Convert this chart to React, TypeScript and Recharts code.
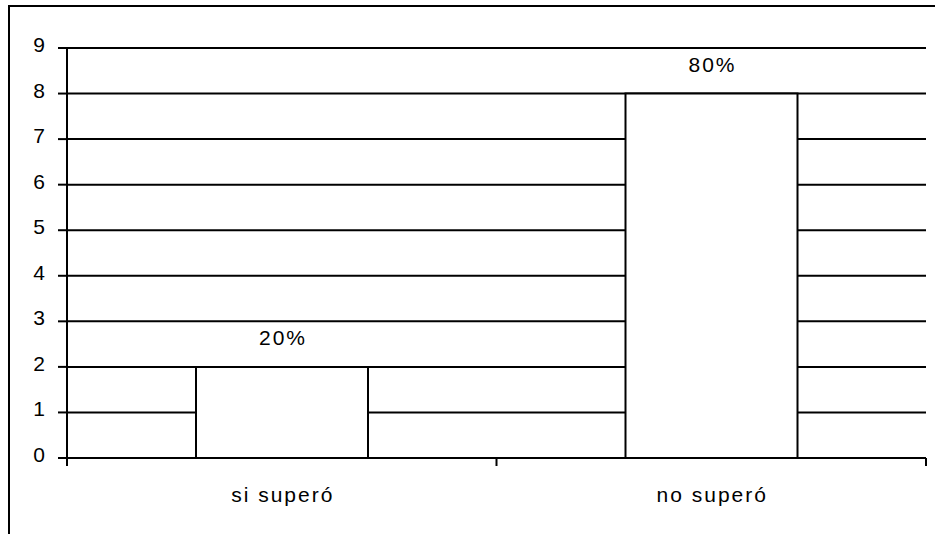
import React from 'react';
import { BarChart, Bar, XAxis, YAxis, CartesianGrid, LabelList } from 'recharts';

const categories = ['si superó', 'no superó'];
const counts = [2, 8];
const percentLabels = ['20%', '80%'];
const yTicks = [0, 1, 2, 3, 4, 5, 6, 7, 8, 9];

const data = categories.map((c, i) => ({ name: c, value: counts[i], label: percentLabels[i] }));

const FONT = '"Liberation Sans", Arial, sans-serif';
const FS = 21;
const CHART_W = 935;
const CHART_H = 534;
const MARGIN = { top: 48, right: 9, bottom: 0, left: 0 };
const Y_W = 67;
const PLOT_W = CHART_W - MARGIN.left - MARGIN.right - Y_W;
const HALF_BAND = PLOT_W / categories.length / 2;

const CategoryTick = (props: any) => {
  const { x, y, payload, index } = props;
  const isLast = index === categories.length - 1;
  return (
    <g>
      <line x1={x - HALF_BAND} x2={x - HALF_BAND} y1={y} y2={y + 8} stroke="#000" strokeWidth={2} />
      {isLast && (
        <line x1={x + HALF_BAND} x2={x + HALF_BAND} y1={y} y2={y + 8} stroke="#000" strokeWidth={2} />
      )}
      <text
        x={x + 1}
        y={y + 44}
        textAnchor="middle"
        fill="#000"
        fontSize={FS}
        fontFamily={FONT}
        letterSpacing={2}
      >
        {payload.value}
      </text>
    </g>
  );
};

const YTick = (props: any) => {
  const { x, y, payload } = props;
  return (
    <text x={x} y={y} dy={4} textAnchor="end" fill="#000" fontSize={FS} fontFamily={FONT}>
      {payload.value}
    </text>
  );
};

const renderPct = (props: any) => {
  const { x, y, width, value } = props;
  return (
    <text
      x={x + width / 2 + 1}
      y={y - 22}
      textAnchor="middle"
      fill="#000"
      fontSize={FS}
      fontFamily={FONT}
      letterSpacing={2}
    >
      {value}
    </text>
  );
};

export default function App() {
  return (
    <div style={{ position: 'absolute', left: 0, top: 0, width: CHART_W, height: CHART_H, background: '#fff' }}>
      <div
        style={{
          position: 'absolute',
          left: 8,
          top: 5,
          width: 940,
          height: 540,
          border: '2px solid #000',
          boxSizing: 'border-box',
        }}
      />
      <div style={{ position: 'absolute', left: 0, top: 0 }}>
        <BarChart width={CHART_W} height={CHART_H} data={data} margin={MARGIN} barSize={172}>
          <CartesianGrid vertical={false} stroke="#000" strokeWidth={2} />
          <XAxis
            dataKey="name"
            height={76}
            axisLine={{ stroke: '#000', strokeWidth: 2 }}
            tickLine={false}
            tickSize={0}
            tickMargin={0}
            tick={<CategoryTick />}
            interval={0}
          />
          <XAxis
            xAxisId="top"
            orientation="top"
            dataKey="name"
            height={0}
            axisLine={{ stroke: '#808080', strokeWidth: 2 }}
            tick={false}
            tickLine={false}
          />
          <YAxis
            domain={[0, 9]}
            ticks={yTicks}
            width={Y_W}
            interval={0}
            axisLine={{ stroke: '#000', strokeWidth: 2 }}
            tickLine={{ stroke: '#000', strokeWidth: 2 }}
            tickSize={9}
            tickMargin={13}
            tick={<YTick />}
          />
          <YAxis
            yAxisId="right"
            orientation="right"
            domain={[0, 9]}
            width={0}
            axisLine={{ stroke: '#808080', strokeWidth: 2 }}
            tick={false}
            tickLine={false}
          />
          <Bar dataKey="value" fill="#fff" stroke="#000" strokeWidth={2} isAnimationActive={false}>
            <LabelList dataKey="label" content={renderPct} />
          </Bar>
        </BarChart>
      </div>
    </div>
  );
}
